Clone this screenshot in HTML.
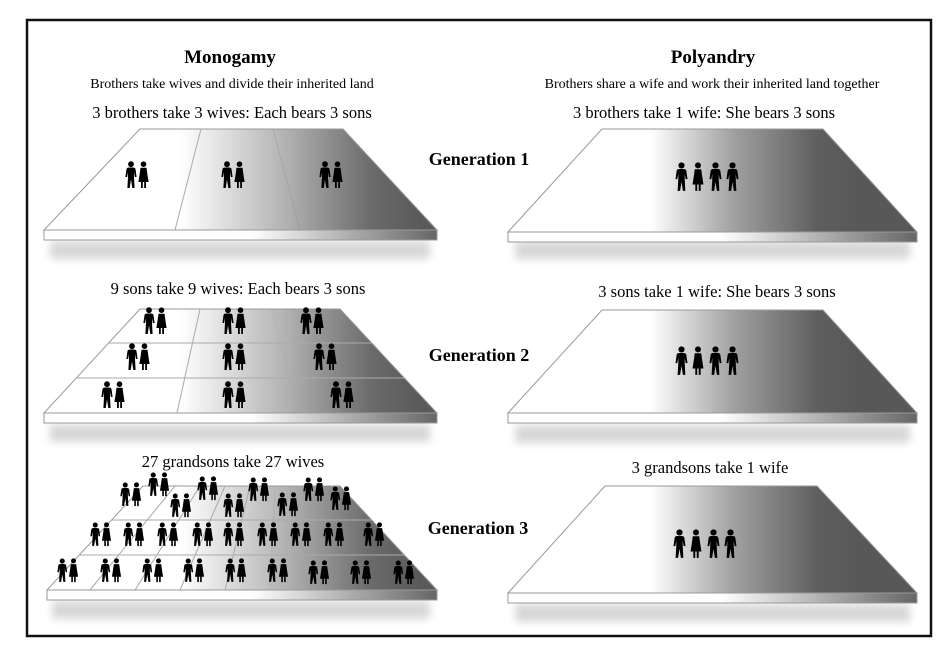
<!DOCTYPE html>
<html><head><meta charset="utf-8"><style>
html,body{margin:0;padding:0;background:#fff;}
svg{display:block;}
text{font-family:"Liberation Serif","Times New Roman",serif;}
</style></head><body>
<svg width="936" height="655" viewBox="0 0 936 655" xmlns="http://www.w3.org/2000/svg" font-family="Liberation Serif, serif">
<defs>
<linearGradient id="gl" gradientUnits="userSpaceOnUse" x1="180" y1="0" x2="420" y2="0">
<stop offset="0" stop-color="#fff"/><stop offset="0.45" stop-color="#b0b0b0"/><stop offset="0.8" stop-color="#6a6a6a"/><stop offset="1" stop-color="#5a5a5a"/></linearGradient>
<linearGradient id="gr" gradientUnits="userSpaceOnUse" x1="650" y1="0" x2="860" y2="0">
<stop offset="0" stop-color="#fff"/><stop offset="0.4" stop-color="#a0a0a0"/><stop offset="0.8" stop-color="#5e5e5e"/><stop offset="1" stop-color="#585858"/></linearGradient>
<linearGradient id="fl" gradientUnits="userSpaceOnUse" x1="250" y1="0" x2="437" y2="0">
<stop offset="0" stop-color="#fff"/><stop offset="1" stop-color="#666"/></linearGradient>
<linearGradient id="fr" gradientUnits="userSpaceOnUse" x1="720" y1="0" x2="917" y2="0">
<stop offset="0" stop-color="#fff"/><stop offset="1" stop-color="#666"/></linearGradient>
<filter id="bl" x="-10%" y="-100%" width="120%" height="300%"><feGaussianBlur stdDeviation="4"/></filter>
<symbol id="m" viewBox="0 0 12 28"><circle cx="6" cy="3.2" r="2.9"/><path d="M1.5 8 Q2 6.5 4 6.5 H8 Q10 6.5 10.5 8 L11.6 16 H9.9 L9 11 V16 L9.6 27 H7.3 L6 18.5 L4.7 27 H2.4 L3 16 V11 L2.1 16 H0.4Z"/></symbol>
<symbol id="w" viewBox="0 0 11 28"><circle cx="5.5" cy="3.2" r="2.8"/><path d="M2.5 6.8 H8.5 L9.5 14 L10.6 21 H8 V27 H6.2 V21 H4.8 V27 H3 V21 H0.4 L1.5 14Z"/></symbol>
<g id="p"><use href="#m" x="0" y="0" width="12" height="28"/><use href="#w" x="13" y="0" width="11" height="28"/></g>
<g id="q"><use href="#m" x="0" y="0" width="10.5" height="25"/><use href="#w" x="11.5" y="0" width="10" height="25"/></g>
<g id="four"><use href="#m" x="0" y="0" width="13" height="30"/><use href="#w" x="17" y="0" width="12" height="30"/><use href="#m" x="34" y="0" width="13" height="30"/><use href="#m" x="51" y="0" width="13" height="30"/></g>
</defs>
<rect x="0" y="0" width="936" height="655" fill="#fff"/>
<rect x="27" y="20" width="904" height="616" fill="none" stroke="#111" stroke-width="2.5"/>

<g font-family="Liberation Serif, serif">
<text x="230" y="63" font-size="19" font-weight="bold" text-anchor="middle">Monogamy</text>
<text x="232" y="88" font-size="14" text-anchor="middle">Brothers take wives and divide their inherited land</text>
<text x="232" y="118" font-size="16.5" text-anchor="middle">3 brothers take 3 wives: Each bears 3 sons</text>
<text x="713" y="63" font-size="19" font-weight="bold" text-anchor="middle">Polyandry</text>
<text x="712" y="88" font-size="14" text-anchor="middle">Brothers share a wife and work their inherited land together</text>
<text x="704" y="118" font-size="16.5" text-anchor="middle">3 brothers take 1 wife: She bears 3 sons</text>

<text x="479" y="165" font-size="18" font-weight="bold" text-anchor="middle">Generation 1</text>
<text x="479" y="361" font-size="18" font-weight="bold" text-anchor="middle">Generation 2</text>
<text x="478" y="534" font-size="18" font-weight="bold" text-anchor="middle">Generation 3</text>

<text x="238" y="294" font-size="16.5" text-anchor="middle">9 sons take 9 wives: Each bears 3 sons</text>
<text x="717" y="297" font-size="16.5" text-anchor="middle">3 sons take 1 wife: She bears 3 sons</text>
<text x="233" y="467" font-size="16.5" text-anchor="middle">27 grandsons take 27 wives</text>
<text x="710" y="473" font-size="16.5" text-anchor="middle">3 grandsons take 1 wife</text>
</g>

<g fill="#d8d8d8" filter="url(#bl)">
<rect x="50" y="241" width="380" height="18"/><rect x="515" y="241" width="395" height="18"/>
<rect x="50" y="424" width="380" height="18"/><rect x="515" y="425" width="395" height="18"/>
<rect x="52" y="601" width="378" height="18"/><rect x="515" y="604" width="395" height="18"/>
</g>

<polygon points="140,129 343,129 437,230 44,230" fill="url(#gl)" stroke="#999" stroke-width="1"/>
<rect x="44" y="230" width="393" height="10" fill="url(#fl)" stroke="#999" stroke-width="1"/>
<line x1="201" y1="129" x2="175" y2="230" stroke="#aaa"/>
<line x1="273" y1="129" x2="300" y2="230" stroke="#888" stroke-opacity=".3"/>
<use href="#p" x="125" y="161"/><use href="#p" x="221" y="161"/><use href="#p" x="319" y="161"/>
<polygon points="602,129 823,129 917,232 508,232" fill="url(#gr)" stroke="#999"/>
<rect x="508" y="232" width="409" height="10" fill="url(#fr)" stroke="#999"/>
<use href="#four" x="675" y="162"/>

<polygon points="140,309 340,309 437,413 44,413" fill="url(#gl)" stroke="#999"/>
<rect x="44" y="413" width="393" height="10" fill="url(#fl)" stroke="#999"/>
<g stroke="#aaa" stroke-width="1" fill="none">
<line x1="108" y1="343" x2="372" y2="343"/><line x1="76" y1="378" x2="405" y2="378"/>
<line x1="200" y1="309" x2="177" y2="413"/><line x1="272" y1="309" x2="298" y2="413" stroke-opacity=".3"/>
</g>
<use href="#p" x="143" y="307"/><use href="#p" x="222" y="307"/><use href="#p" x="300" y="307"/>
<use href="#p" x="126" y="343"/><use href="#p" x="222" y="343"/><use href="#p" x="313" y="343"/>
<use href="#p" x="101" y="381"/><use href="#p" x="222" y="381"/><use href="#p" x="330" y="381"/>
<polygon points="602,310 823,310 917,413 508,413" fill="url(#gr)" stroke="#999"/>
<rect x="508" y="413" width="409" height="10" fill="url(#fr)" stroke="#999"/>
<use href="#four" x="675" y="346"/>

<polygon points="143,486 340,486 437,590 47,590" fill="url(#gl)" stroke="#999"/>
<rect x="47" y="590" width="390" height="10" fill="url(#fl)" stroke="#999"/>
<g stroke="#aaa" stroke-width="1" fill="none">
<line x1="112" y1="520" x2="372" y2="520"/><line x1="80" y1="555" x2="405" y2="555"/>
<line x1="175" y1="486" x2="90" y2="590"/><line x1="200" y1="486" x2="135" y2="590"/>
<line x1="225" y1="486" x2="180" y2="590"/><line x1="250" y1="486" x2="225" y2="590"/>
<line x1="275" y1="486" x2="270" y2="590" stroke-opacity=".5"/><line x1="300" y1="486" x2="315" y2="590" stroke-opacity=".4"/>
</g>
<use href="#q" x="120" y="482"/><use href="#q" x="148" y="472"/><use href="#q" x="170" y="493"/>
<use href="#q" x="197" y="476"/><use href="#q" x="223" y="493"/><use href="#q" x="248" y="477"/>
<use href="#q" x="277" y="492"/><use href="#q" x="303" y="477"/><use href="#q" x="330" y="486"/>
<use href="#q" x="90" y="522"/><use href="#q" x="123" y="522"/><use href="#q" x="157" y="522"/>
<use href="#q" x="192" y="522"/><use href="#q" x="223" y="522"/><use href="#q" x="257" y="522"/>
<use href="#q" x="290" y="522"/><use href="#q" x="323" y="522"/><use href="#q" x="363" y="522"/>
<use href="#q" x="57" y="558"/><use href="#q" x="100" y="558"/><use href="#q" x="142" y="558"/>
<use href="#q" x="183" y="558"/><use href="#q" x="225" y="558"/><use href="#q" x="267" y="558"/>
<use href="#q" x="308" y="560"/><use href="#q" x="350" y="560"/><use href="#q" x="393" y="560"/>
<polygon points="605,486 817,486 917,593 508,593" fill="url(#gr)" stroke="#999"/>
<rect x="508" y="593" width="409" height="10" fill="url(#fr)" stroke="#999"/>
<use href="#four" x="673" y="529"/>
</svg>
</body></html>
